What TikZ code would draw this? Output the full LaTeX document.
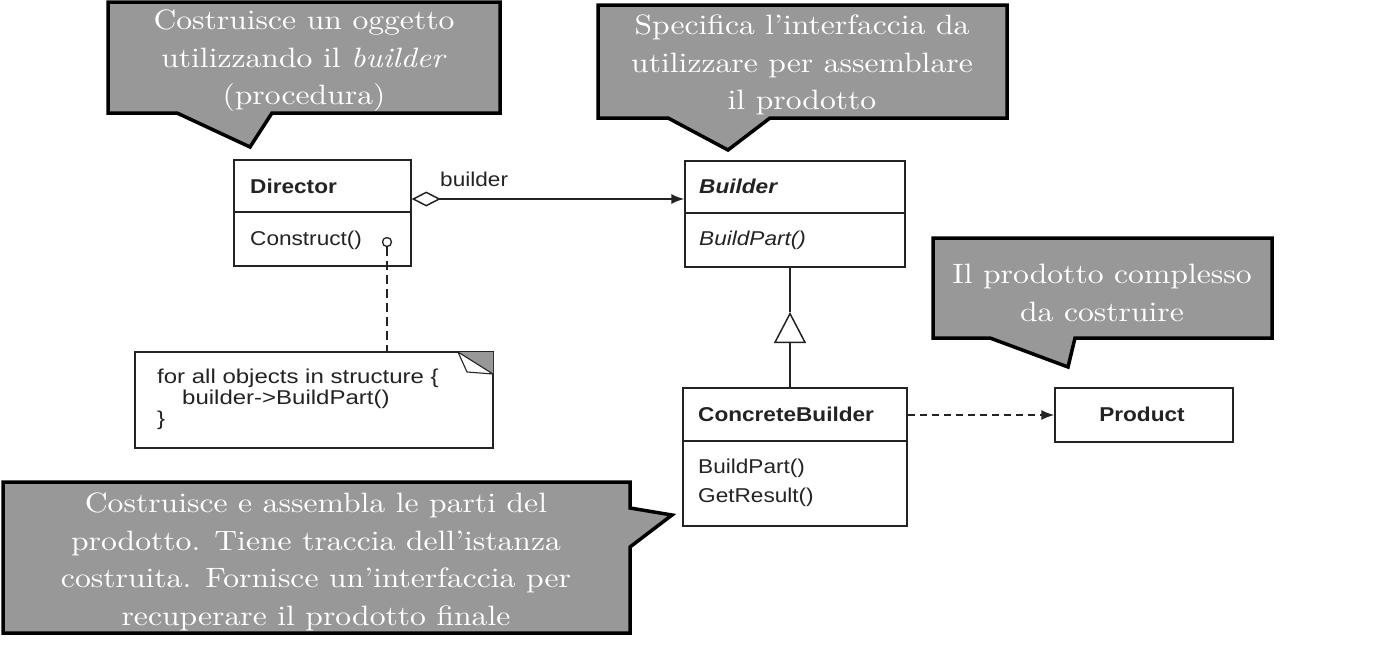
\documentclass[tikz,border=0pt]{standalone}
\usepackage{fontspec}
\newfontfamily\umlfont[FakeStretch=1.13]{Liberation Sans}
\newfontfamily\notefont[FakeStretch=1.2]{Liberation Sans}
\newfontfamily\callfont{lmroman10-regular}[Extension=.otf, ItalicFont=lmroman10-italic, FakeStretch=1.13]
\usetikzlibrary{arrows.meta}
\definecolor{callgray}{RGB}{152,152,152}
\definecolor{umlink}{RGB}{35,35,35}
\begin{document}
\begin{tikzpicture}[x=1pt,y=-1pt,
  callout/.style={fill=callgray, draw=black, line width=3.5pt, line join=miter},
  calltext/.style={text=white, align=center, font=\callfont\fontsize{28}{37.5}\selectfont, inner sep=0pt},
  umlbox/.style={draw=umlink, line width=1.5pt, fill=white, inner sep=0pt},
  umlline/.style={draw=umlink, line width=1.5pt},
  umltext/.style={font=\umlfont\fontsize{20}{24}\selectfont, inner sep=0pt, anchor=west, text=umlink},
  umlbold/.style={umltext, font=\umlfont\bfseries\fontsize{20}{24}\selectfont},
  umlital/.style={umltext, font=\umlfont\itshape\fontsize{20}{24}\selectfont},
  umlbi/.style={umltext, font=\umlfont\bfseries\itshape\fontsize{20}{24}\selectfont}
]
\useasboundingbox (0,0) rectangle (1387,667);

% ---------- callouts ----------
\path[callout] (108,2) -- (500,2) -- (500,113) -- (272,113) -- (250,147) -- (177,113) -- (108,113) -- cycle;
\node[calltext] (c1) at (304,61) {Costruisce un oggetto\\utilizzando il \textit{builder}\\(procedura)};

\path[callout] (598,5) -- (1007,5) -- (1007,118) -- (770,118) -- (728,150) -- (668,118) -- (598,118) -- cycle;
\node[calltext] (c2) at (802,65) {Specifica l’interfaccia da\\utilizzare per assemblare\\il prodotto};

\path[callout] (933,238) -- (1272,238) -- (1272,338) -- (1075,338) -- (1068,367) -- (990,338) -- (933,338) -- cycle;
\node[calltext] (c3) at (1102,293) {Il prodotto complesso\\da costruire};

\path[callout] (3,482) -- (630,482) -- (630,508) -- (672,515) -- (630,547) -- (630,633) -- (3,633) -- cycle;
\node[calltext] (c4) at (316,562) {Costruisce e assembla le parti del\\prodotto. Tiene traccia dell’istanza\\costruita. Fornisce un’interfaccia per\\recuperare il prodotto finale};

% ---------- Director ----------
\node[umlbox, minimum width=177pt, minimum height=106pt] (dir) at (322.5,213) {};
\draw[umlline] (234,212) -- (411,212);
\node[umlbold] (dirname) at (250,186) {Director};
\node[umltext] (dirop) at (250,240) {Construct()};
\node[circle, draw=umlink, line width=1.3pt, fill=white, minimum size=9pt, inner sep=0pt] (dcirc) at (387,242) {};

% ---------- Note ----------
\node[umlbox, minimum width=358pt, minimum height=96pt] (note) at (314,400) {};
\fill[callgray] (458,352) -- (493,352) -- (493,374) -- cycle;
\draw[umlline, line width=1.1pt, fill=white, line join=round] (458,352) -- (467,372) -- (493,374) -- cycle;
\node[umltext, anchor=north west, align=left, font=\notefont\fontsize{20}{21}\selectfont] (notetxt) at (157,369)
  {for all objects in structure \{\\\hspace*{25pt}builder->BuildPart()\\\}};
\draw[umlline, dash pattern=on 9pt off 5pt] (dcirc.south) -- (note.north -| dcirc.south);

% ---------- Builder ----------
\node[umlbox, minimum width=220pt, minimum height=106pt] (bld) at (795,214) {};
\draw[umlline] (685,213) -- (905,213);
\node[umlbi] (bldname) at (699,186) {Builder};
\node[umlital] (bldop) at (699,240) {BuildPart()};

% ---------- ConcreteBuilder ----------
\node[umlbox, minimum width=224pt, minimum height=138pt] (cb) at (795,457) {};
\draw[umlline] (683,441) -- (907,441);
\node[umlbold] (cbname) at (698,414) {ConcreteBuilder};
\node[umltext] (cbop1) at (698,468) {BuildPart()};
\node[umltext] (cbop2) at (698,497) {GetResult()};

% ---------- Product ----------
\node[umlbox, minimum width=178pt, minimum height=54pt] (prod) at (1144,415) {};
\node[umlbold, anchor=center] (prodname) at (1142,414) {Product};

% ---------- connectors ----------
\draw[umlline, {Diamond[open,length=29pt,width=15pt]}-{Latex[length=13pt,width=10pt]}]
  ([yshift=14pt]dir.east) -- ([yshift=15pt]bld.west);
\node[umltext] (agglbl) at (440,179) {builder};

\coordinate (inhapex) at (790,312);
\draw[umlline, -{Triangle[open,length=31pt,width=32pt]}] (cb.north -| inhapex) -- (inhapex);
\draw[umlline] (inhapex) -- (bld.south -| inhapex);

\draw[umlline, dash pattern=on 7pt off 5pt, -{Latex[length=13pt,width=10pt]}] (cb.east |- prod.west) -- (prod.west);
\end{tikzpicture}
\end{document}
